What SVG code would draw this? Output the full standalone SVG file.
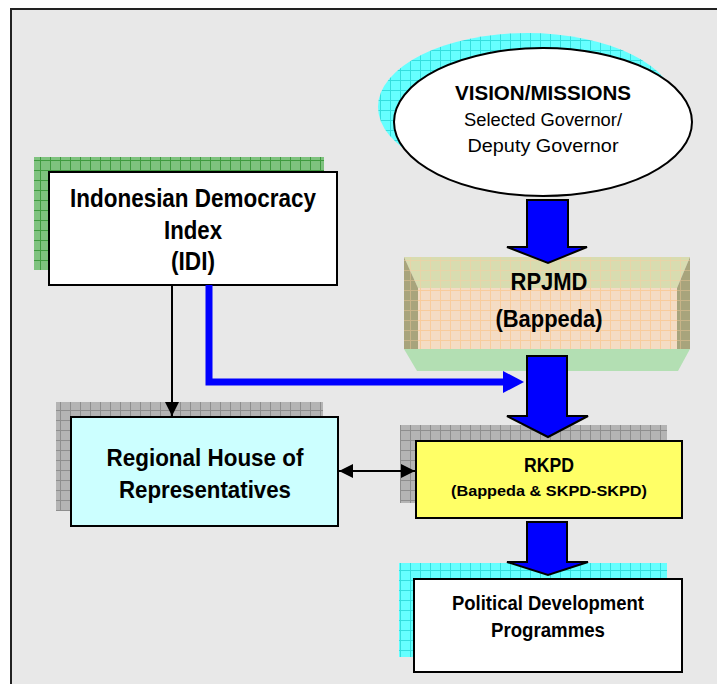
<svg xmlns="http://www.w3.org/2000/svg" width="717" height="684" viewBox="0 0 717 684">
<style>
text{font-family:"Liberation Sans Narrow","Liberation Sans",Arial,sans-serif;font-weight:bold;text-anchor:middle;fill:#000}
.n{font-weight:normal}
.box{stroke:#000;stroke-width:2}
.big{fill:#0000ff;stroke:#000;stroke-width:2;stroke-linejoin:miter}
.ln{stroke:#000;stroke-width:2;fill:none}
</style>
<defs>
<pattern id="pg" width="10" height="10" patternUnits="userSpaceOnUse"><rect width="10" height="10" fill="#7ec27e"/><path d="M0 0.5H10M0.5 0V10" stroke="#3f9a3f" stroke-width="1"/></pattern>
<pattern id="pc" width="10" height="10" patternUnits="userSpaceOnUse"><rect width="10" height="10" fill="#66ffff"/><path d="M0 0.5H10M0.5 0V10" stroke="#33dede" stroke-width="1"/></pattern>
<pattern id="pgr" width="10" height="10" patternUnits="userSpaceOnUse"><rect width="10" height="10" fill="#b4b4b4"/><path d="M0 0.5H10M0.5 0V10" stroke="#8e8e8e" stroke-width="1"/></pattern>
<pattern id="pp" width="10" height="10" patternUnits="userSpaceOnUse"><rect width="10" height="10" fill="#f4dcc4"/><path d="M0 0.5H10M0.5 0V10" stroke="#f8cc9c" stroke-width="1"/></pattern>
<pattern id="pt" width="10" height="10" patternUnits="userSpaceOnUse"><rect width="10" height="10" fill="#d8dcb0"/><path d="M0 0.5H10M0.5 0V10" stroke="#e8d4a8" stroke-width="1"/></pattern>
<pattern id="ps" width="10" height="10" patternUnits="userSpaceOnUse"><rect width="10" height="10" fill="#a8a47c"/><path d="M0 0.5H10M0.5 0V10" stroke="#c8b488" stroke-width="1"/></pattern>
<marker id="ah" viewBox="0 0 10 10" refX="10" refY="5" markerWidth="7" markerHeight="7" orient="auto-start-reverse" markerUnits="strokeWidth"><path d="M0 0L10 5L0 10z" fill="#000"/></marker>
</defs>
<rect x="11" y="9" width="720" height="690" fill="#e8e8e8" stroke="#222" stroke-width="2"/>

<g id="vision">
<ellipse cx="527" cy="107" rx="149" ry="74" fill="url(#pc)"/>
<ellipse cx="543" cy="122" rx="149" ry="74" fill="#fff" stroke="#000" stroke-width="2"/>
<text x="543" y="100" font-size="21" textLength="176" lengthAdjust="spacingAndGlyphs">VISION/MISSIONS</text>
<text x="543" y="126" font-size="18" class="n" textLength="158" lengthAdjust="spacingAndGlyphs">Selected Governor/</text>
<text x="543" y="152" font-size="18" class="n" textLength="151" lengthAdjust="spacingAndGlyphs">Deputy Governor</text>
</g>

<g id="idi">
<rect x="34" y="157" width="290" height="113" fill="url(#pg)"/>
<rect x="49" y="172" width="288" height="113" fill="#fff" class="box"/>
<text x="193" y="207" font-size="25" textLength="246" lengthAdjust="spacingAndGlyphs">Indonesian Democracy</text>
<text x="193" y="239" font-size="25" textLength="58" lengthAdjust="spacingAndGlyphs">Index</text>
<text x="193" y="270" font-size="25" textLength="44" lengthAdjust="spacingAndGlyphs">(IDI)</text>
</g>

<g id="rpjmd">
<polygon points="404,257 690,257 677,288 418,288" fill="url(#pt)"/>
<polygon points="404,257 418,288 418,349 404,349" fill="url(#ps)"/>
<polygon points="690,257 677,288 677,349 690,349" fill="url(#ps)"/>
<rect x="418" y="288" width="259" height="61" fill="url(#pp)"/>
<polygon points="404,349 690,349 678,371 417,371" fill="#b3dfb3"/>
<text x="549" y="290" font-size="24" textLength="77" lengthAdjust="spacingAndGlyphs">RPJMD</text>
<text x="549" y="327" font-size="24" textLength="107" lengthAdjust="spacingAndGlyphs">(Bappeda)</text>
</g>

<g id="regional">
<rect x="56" y="402" width="267" height="109" fill="url(#pgr)"/>
<rect x="71" y="417" width="267" height="109" fill="#ccffff" class="box"/>
<text x="205" y="466" font-size="24" textLength="197" lengthAdjust="spacingAndGlyphs">Regional House of</text>
<text x="205" y="498" font-size="24" textLength="172" lengthAdjust="spacingAndGlyphs">Representatives</text>
</g>

<g id="rkpd">
<rect x="400" y="425" width="267" height="78" fill="url(#pgr)"/>
<rect x="416" y="441" width="266" height="77" fill="#ffff66" class="box"/>
<text x="549" y="472" font-size="20" textLength="50" lengthAdjust="spacingAndGlyphs">RKPD</text>
<text x="549" y="496" font-size="15" textLength="196" lengthAdjust="spacingAndGlyphs">(Bappeda &amp; SKPD-SKPD)</text>
</g>

<g id="political">
<rect x="399" y="563" width="268" height="94" fill="url(#pc)"/>
<rect x="414" y="579" width="268" height="93" fill="#fff" class="box"/>
<text x="548" y="610" font-size="20" textLength="192" lengthAdjust="spacingAndGlyphs">Political Development</text>
<text x="548" y="637" font-size="20" textLength="114" lengthAdjust="spacingAndGlyphs">Programmes</text>
</g>

<g id="connectors">
<polygon class="big" points="527,200 568,200 568,247 587,247 548,263 507,247 527,247"/>
<polygon class="big" points="527,356 567,356 567,416 588,416 548,437 507,416 527,416"/>
<polygon class="big" points="527,522 567,522 567,562 588,562 548,575 507,562 527,562"/>
<line class="ln" x1="172" y1="285" x2="172" y2="416" marker-end="url(#ah)"/>
<line class="ln" x1="339" y1="471" x2="415" y2="471" marker-start="url(#ah)" marker-end="url(#ah)"/>
<polyline points="209,285 209,382 505,382" fill="none" stroke="#0000ff" stroke-width="7"/>
<polygon points="503,371 524,382 503,393" fill="#0000ff"/>
</g>
</svg>
